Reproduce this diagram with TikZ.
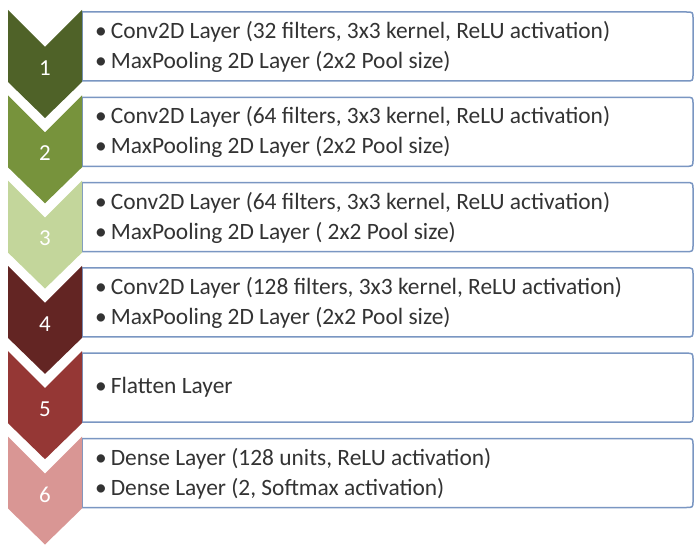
\documentclass[tikz,border=0pt]{standalone}
\usepackage{fontspec}
\setmainfont{Carlito}
\begin{document}
\begin{tikzpicture}[x=1bp,y=-1bp,
  box/.style={draw=boxblue,line width=1.5bp,fill=white},
  lbl/.style={anchor=west,inner sep=0,font=\fontsize{23.5}{26}\selectfont,text=black!80},
  num/.style={text=white,font=\fontsize{23}{26}\selectfont}]
\definecolor{boxblue}{HTML}{7A96C2}
\definecolor{c1}{HTML}{4F6228}\definecolor{c2}{HTML}{77933C}\definecolor{c3}{HTML}{C3D69B}
\definecolor{c4}{HTML}{632523}\definecolor{c5}{HTML}{953735}\definecolor{c6}{HTML}{D99694}
\useasboundingbox (0,0) rectangle (700,550);
\foreach \i/\c/\a/\b in {
 1/c1/{Conv2D Layer (32 filters, 3x3 kernel, ReLU activation)}/{MaxPooling 2D Layer (2x2 Pool size)},
 2/c2/{Conv2D Layer (64 filters, 3x3 kernel, ReLU activation)}/{MaxPooling 2D Layer (2x2 Pool size)},
 3/c3/{Conv2D Layer (64 filters, 3x3 kernel, ReLU activation)}/{MaxPooling 2D Layer ( 2x2 Pool size)},
 4/c4/{Conv2D Layer (128 filters, 3x3 kernel, ReLU activation)}/{MaxPooling 2D Layer (2x2 Pool size)},
 6/c6/{Dense Layer (128 units, ReLU activation)}/{Dense Layer (2, Softmax activation)}}{
  \pgfmathsetmacro{\t}{10+85.3*(\i-1)}
  \draw[box] (82,\t+2) -- (686,\t+2) .. controls (693,\t+2) .. (693,\t+9) -- (693,\t+64) .. controls (693,\t+71) .. (686,\t+71) -- (82,\t+71) -- cycle;
  \fill[\c] (8,\t) -- (45,\t+37) -- (82,\t) -- (82,\t+72) -- (45,\t+108) -- (8,\t+72) -- cycle;
  \node[num] (n\i) at (45,\t+58) {\i};
  \node[lbl] (a\i) at (95,\t+22) {•\hspace{4bp}\a};
  \node[lbl] (b\i) at (95,\t+52) {•\hspace{4bp}\b};
}
\pgfmathsetmacro{\t}{10+85.3*4}
\draw[box] (82,\t+2) -- (686,\t+2) .. controls (693,\t+2) .. (693,\t+9) -- (693,\t+64) .. controls (693,\t+71) .. (686,\t+71) -- (82,\t+71) -- cycle;
\fill[c5] (8,\t) -- (45,\t+37) -- (82,\t) -- (82,\t+72) -- (45,\t+108) -- (8,\t+72) -- cycle;
\node[num] (n5) at (45,\t+58) {5};
\node[lbl] (a5) at (95,\t+36) {•\hspace{4bp}Flatten Layer};
\end{tikzpicture}
\end{document}
